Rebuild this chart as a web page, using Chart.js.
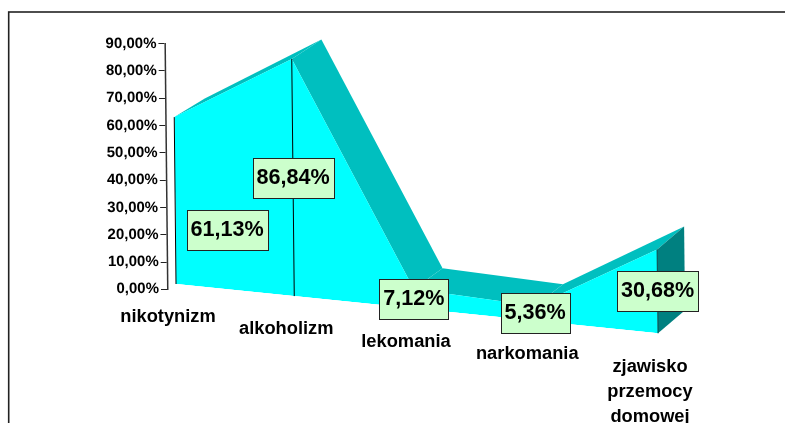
<!DOCTYPE html>
<html>
<head>
<meta charset="utf-8">
<script src="https://cdn.jsdelivr.net/npm/chart.js@4"></script>
<style>
  html, body { margin: 0; padding: 0; background: #fff; overflow: hidden; }
  canvas { display: block; }
</style>
</head>
<body>
<canvas id="chart" width="785" height="423"></canvas>
<script>
const categories = ['nikotynizm', 'alkoholizm', 'lekomania', 'narkomania', ['zjawisko', 'przemocy', 'domowej']];
const values = [61.13, 86.84, 7.12, 5.36, 30.68];
const yTicks = [0, 10, 20, 30, 40, 50, 60, 70, 80, 90];

const fmt = v => v.toFixed(2).replace('.', ',') + '%';
const FONT = '"Liberation Sans", Arial, sans-serif';

// the picture is a fake 3D area: the front face is the chart area sheared
const SHEAR_Y = 0.1023;
const SHEAR_X = 0.0105;
const FACE_DX = 8;
const FACE_DY = -5.3;

// x axis squeezed a little for perspective
class PerspectiveCategory extends Chart.CategoryScale {
  static id = 'perspectiveCategory';
  static defaults = Chart.CategoryScale.defaults;
  getPixelForValue(value, index) {
    const p = super.getPixelForValue(value, index);
    const t = (p - this.left) / this.width;
    return p - 12 * t * (1 - t);
  }
}

// value axis leans the same way as the front face
class LeaningLinear extends Chart.LinearScale {
  static id = 'leaningLinear';
  static defaults = Chart.LinearScale.defaults;
  lean(fn) {
    const ctx = this.ctx;
    ctx.save();
    ctx.transform(1, 0, SHEAR_X, 1, -SHEAR_X * this.bottom, 0);
    fn();
    ctx.restore();
  }
  drawGrid(area) { this.lean(() => super.drawGrid(area)); }
  drawBorder() { this.lean(() => super.drawBorder()); }
  drawLabels(area) { this.lean(() => super.drawLabels(area)); }
}

Chart.register(PerspectiveCategory, LeaningLinear);

function faceTransform(chart) {
  const a = chart.chartArea;
  return [1, SHEAR_Y, SHEAR_X, 1, FACE_DX - SHEAR_X * a.bottom, FACE_DY - SHEAR_Y * a.left];
}

function project(chart, x, y) {
  const m = faceTransform(chart);
  return { x: x + m[2] * y + m[4], y: m[1] * x + y + m[5] };
}

function frontPoint(chart, i, v) {
  return project(chart, chart.scales.x.getPixelForValue(i), chart.scales.y.getPixelForValue(v));
}

function backPoint(chart, i, v) {
  const t = i / (values.length - 1);
  const p = frontPoint(chart, i, v);
  return { x: p.x + 30.5 - 3.5 * t, y: p.y - 18.5 - 4.5 * t };
}

function poly(ctx, pts, color) {
  ctx.beginPath();
  pts.forEach((p, i) => i ? ctx.lineTo(p.x, p.y) : ctx.moveTo(p.x, p.y));
  ctx.closePath();
  ctx.fillStyle = color;
  ctx.fill();
}

const frame = {
  id: 'frame',
  beforeDraw(chart) {
    const ctx = chart.ctx;
    ctx.save();
    ctx.strokeStyle = '#222';
    ctx.lineWidth = 1.6;
    ctx.strokeRect(8.7, 12, 900, 500);
    ctx.restore();
  }
};

const depth = {
  id: 'depth',
  beforeDatasetsDraw(chart) {
    const ctx = chart.ctx;
    const last = values.length - 1;
    // top band behind the front face
    for (let i = 0; i < last; i++) {
      poly(ctx, [
        frontPoint(chart, i, values[i]),
        backPoint(chart, i, values[i]),
        backPoint(chart, i + 1, values[i + 1]),
        frontPoint(chart, i + 1, values[i + 1])
      ], '#00BFBF');
    }
    // closing side on the right
    poly(ctx, [
      frontPoint(chart, last, values[last]),
      backPoint(chart, last, values[last]),
      backPoint(chart, last, 0),
      frontPoint(chart, last, 0)
    ], '#008080');

    ctx.save();
    ctx.transform(...faceTransform(chart));
  },
  afterDatasetsDraw(chart) {
    const ctx = chart.ctx;
    ctx.restore();

    // drop lines
    values.forEach((v, i) => {
      const a = frontPoint(chart, i, v);
      const b = frontPoint(chart, i, 0);
      ctx.beginPath();
      ctx.moveTo(a.x, a.y);
      ctx.lineTo(b.x, b.y);
      ctx.strokeStyle = i === values.length - 1 ? '#004848' : '#000';
      ctx.lineWidth = 1;
      ctx.stroke();
    });

    // category labels step down with the base of the face
    ctx.save();
    ctx.font = 'bold 18.3px ' + FONT;
    ctx.fillStyle = '#000';
    ctx.textAlign = 'center';
    ctx.textBaseline = 'middle';
    categories.forEach((c, i) => {
      const x = chart.scales.x.getPixelForValue(i);
      const y = chart.scales.y.bottom + 28 + SHEAR_Y * (x - chart.scales.x.left);
      [].concat(c).forEach((line, k) => ctx.fillText(line, x, y + k * 25));
    });
    ctx.restore();

    // value boxes sit half way up the face, the first one was dragged aside
    ctx.save();
    ctx.font = 'bold 21.6px ' + FONT;
    ctx.textAlign = 'center';
    ctx.textBaseline = 'middle';
    values.forEach((v, i) => {
      const p = frontPoint(chart, i, v / 2);
      const cx = p.x + (i === 0 ? 52 : 0);
      const cy = p.y + (i === 0 ? 29 : 0);
      const txt = fmt(v);
      const w = Math.round(ctx.measureText(txt).width) + 8;
      const x = Math.round(cx - w / 2) + 0.5;
      const y = Math.round(cy - 20) + 0.5;
      ctx.fillStyle = '#CCFFCC';
      ctx.fillRect(x, y, w, 40);
      ctx.strokeStyle = '#222';
      ctx.lineWidth = 1;
      ctx.strokeRect(x, y, w, 40);
      ctx.fillStyle = '#000';
      ctx.fillText(txt, cx, cy);
    });
    ctx.restore();
  }
};

new Chart(document.getElementById('chart'), {
  type: 'line',
  data: {
    labels: categories,
    datasets: [{
      data: values,
      fill: 'origin',
      backgroundColor: '#00FFFF',
      borderWidth: 0,
      pointRadius: 0,
      tension: 0,
      clip: false
    }]
  },
  plugins: [frame, depth],
  options: {
    responsive: false,
    animation: false,
    layout: { padding: { left: 0, right: 135, top: 43.6, bottom: 133.7 } },
    plugins: { legend: { display: false }, tooltip: { enabled: false } },
    scales: {
      x: {
        type: 'perspectiveCategory',
        offset: false,
        grid: { display: false },
        border: { display: false },
        ticks: { display: false },
        afterFit(scale) { scale.height = 0; }
      },
      y: {
        type: 'leaningLinear',
        min: 0,
        max: 90,
        afterBuildTicks(scale) { scale.ticks = yTicks.map(value => ({ value })); },
        afterFit(scale) { scale.width = 168; },
        grid: { drawOnChartArea: false, drawTicks: true, tickLength: 7, color: '#222' },
        border: { display: true, color: '#333', width: 1.5 },
        ticks: {
          padding: 2,
          color: '#000',
          font: { family: FONT, size: 15, weight: 'bold' },
          callback: v => fmt(v)
        }
      }
    }
  }
});
</script>
</body>
</html>
